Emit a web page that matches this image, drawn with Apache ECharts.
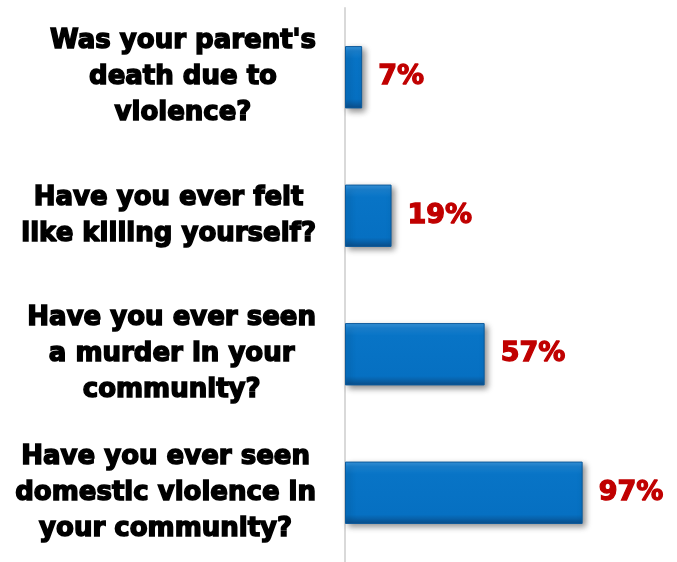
<!DOCTYPE html>
<html><head><meta charset="utf-8">
<script src="https://cdn.jsdelivr.net/npm/echarts@6/dist/echarts.min.js"></script>
<style>html,body{margin:0;padding:0;background:#fff}#c{width:677px;height:562px}</style>
</head><body><div id="c"></div>
<script>
const categories = [
  "Was your parent's\ndeath due to\nviolence?",
  "Have you ever felt\nlike killing yourself?",
  "Have you ever seen\na murder in your\ncommunity?",
  "Have you ever seen\ndomestic violence in\nyour community?"
];
const values = [7, 19, 57, 97];

const chart = echarts.init(document.getElementById('c'));
const FONT = '"DejaVu Sans", sans-serif';
chart.setOption({
  animation: false,
  grid: {left: 345, top: 8, width: 245, height: 556},
  xAxis: {type: 'value', min: 0, max: 100, show: false},
  yAxis: {
    type: 'category', data: categories, inverse: true,
    axisLine: {show: true, lineStyle: {color: '#d9d9d9', width: 2}},
    axisTick: {show: false},
    axisLabel: {
      align: 'right', margin: 29,
      formatter: function (v) { return v.split('\n').map(function (l) { return '{c|' + l + '}'; }).join('\n'); },
      rich: {
        c: {
          align: 'center', color: '#000',
          fontFamily: FONT, fontWeight: 'bold', fontSize: 26, lineHeight: 36,
          textBorderColor: '#000', textBorderWidth: 1.5
        }
      }
    }
  },
  series: [{
    type: 'bar', data: values, barCategoryGap: '55%',
    itemStyle: {
      color: new echarts.graphic.LinearGradient(0, 0, 0, 1, [
        {offset: 0, color: '#3a98e0'},
        {offset: 0.08, color: '#1a82d2'},
        {offset: 0.2, color: '#0874c6'},
        {offset: 0.85, color: '#0670c2'},
        {offset: 1, color: '#0a4f8c'}
      ]),
      borderColor: '#0b5a9c', borderWidth: 1,
      shadowColor: 'rgba(0,0,0,0.45)', shadowBlur: 6, shadowOffsetX: 3, shadowOffsetY: 3
    },
    label: {
      show: true, position: 'right', distance: 16,
      formatter: '{c}%', color: '#c00000',
      fontFamily: FONT, fontWeight: 'bold', fontSize: 27,
      textBorderColor: '#c00000', textBorderWidth: 1.3
    }
  }]
});
</script></body></html>
